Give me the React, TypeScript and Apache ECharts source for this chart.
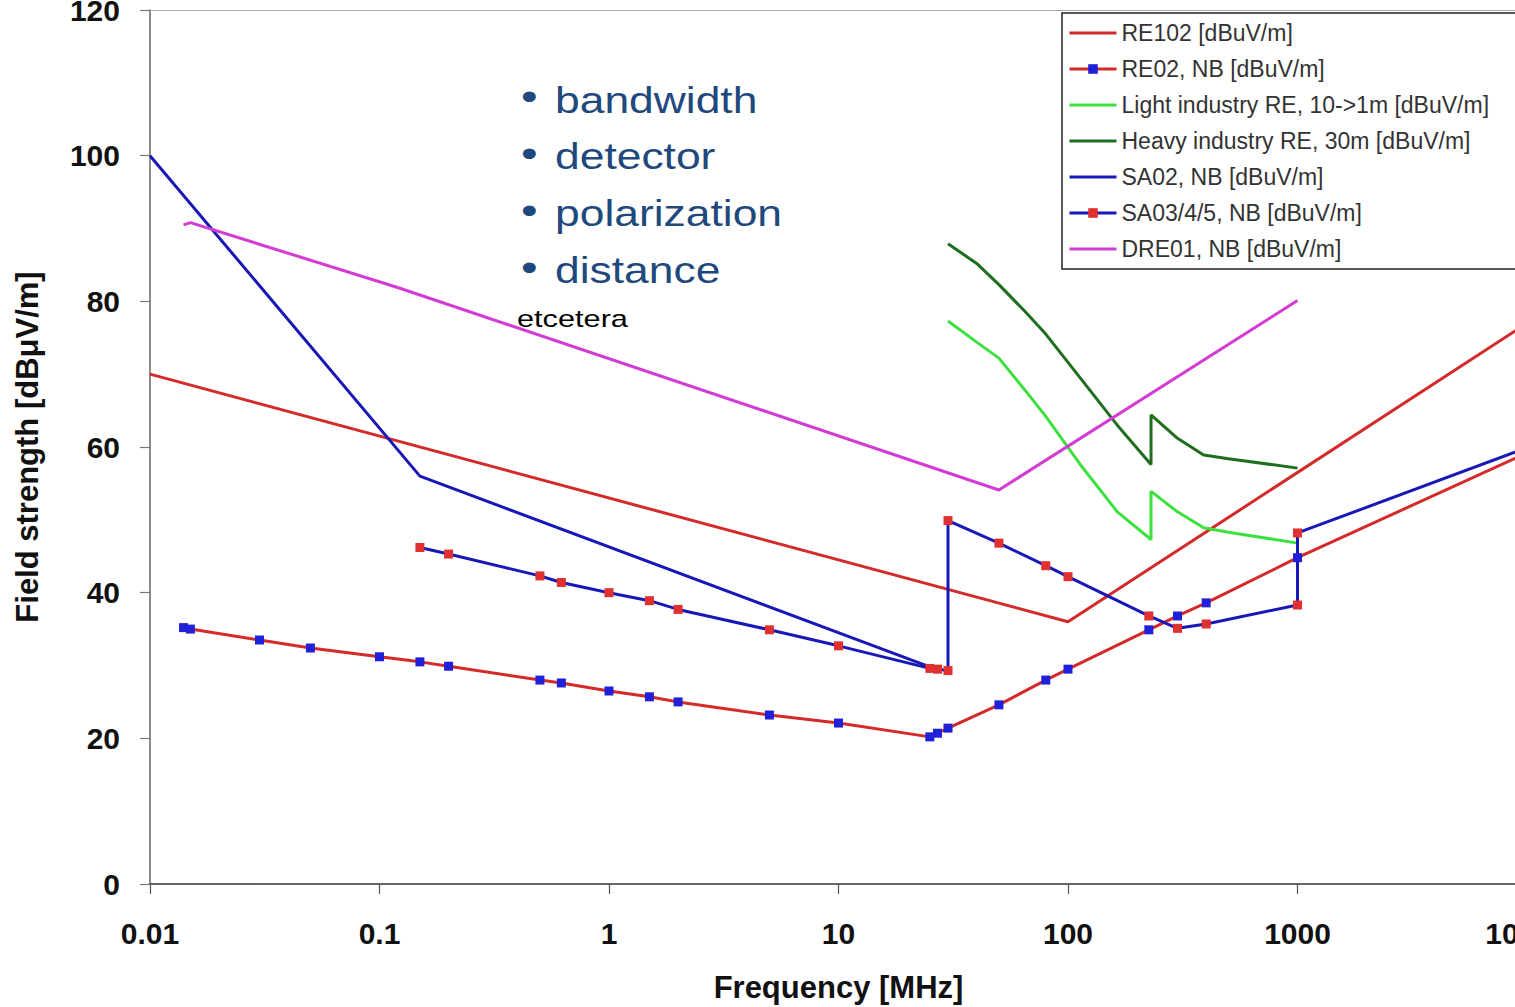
import React, { useEffect, useRef } from 'react';
import * as echarts from 'echarts';

const FONT = '"Liberation Sans", Arial, Helvetica, sans-serif';

// Frequencies in MHz, values in dBuV/m
const re102Freq = [0.01, 100, 10000];
const re102Val = [70, 36, 77];

const re02Freq = [0.014, 0.015, 0.03, 0.05, 0.1, 0.15, 0.2, 0.5, 0.62, 1, 1.5, 2, 5, 10, 25, 27, 30, 50, 80, 100, 225, 300, 400, 1000, 10000];
const re02Val = [35.2, 35.0, 33.5, 32.4, 31.2, 30.5, 29.9, 28.0, 27.6, 26.5, 25.7, 25.0, 23.2, 22.1, 20.2, 20.7, 21.4, 24.6, 28.0, 29.5, 34.9, 36.8, 38.6, 44.8, 59.2];

const lightFreq = [30, 40, 50, 65, 80, 113, 164, 230, 230, 300, 390, 500, 1000];
const lightVal = [77.3, 74.4, 72.2, 67.8, 64.2, 57.6, 51.1, 47.3, 53.9, 51.1, 48.9, 48.3, 46.8];

const heavyFreq = [30, 40, 50, 65, 80, 113, 164, 230, 230, 300, 390, 500, 1000];
const heavyVal = [87.9, 85.2, 82.3, 78.6, 75.5, 69.5, 63.0, 57.6, 64.4, 61.2, 58.9, 58.4, 57.1];

const sa02Freq = [0.01, 0.15, 25];
const sa02Val = [100, 56, 29.8];

const sa03Freq = [0.15, 0.2, 0.5, 0.62, 1, 1.5, 2, 5, 10, 25, 27, 30, 30, 50, 80, 100, 225, 300, 400, 1000, 1000, 10000];
const sa03Val = [46.2, 45.3, 42.3, 41.4, 40.0, 38.9, 37.7, 34.9, 32.7, 29.6, 29.5, 29.3, 49.9, 46.8, 43.7, 42.2, 36.8, 35.1, 35.7, 38.3, 48.2, 59.9];

const dre01Freq = [0.014, 0.015, 0.12, 50, 1000];
const dre01Val = [90.5, 90.8, 81.9, 54.1, 80.1];

const seriesNames = [
  'RE102 [dBuV/m]',
  'RE02, NB [dBuV/m]',
  'Light industry RE, 10->1m [dBuV/m]',
  'Heavy industry RE, 30m [dBuV/m]',
  'SA02, NB [dBuV/m]',
  'SA03/4/5, NB [dBuV/m]',
  'DRE01, NB [dBuV/m]',
];
const seriesHasMarker = [false, true, false, false, false, true, false];

const bullets = ['bandwidth', 'detector', 'polarization', 'distance'];
const noteText = 'etcetera';

const RED = '#d42a2a';
const BLUE = '#1818b8';
const LIGHT_GREEN = '#3ee03e';
const DARK_GREEN = '#1f6e1f';
const MAGENTA = '#d23cd2';
const MARK_BLUE = '#2020d8';
const MARK_RED = '#e03030';

const pairs = (xs: number[], ys: number[]) => xs.map((x, i) => [x, ys[i]]);

function lineSeries(name: string, xs: number[], ys: number[], color: string, markerColor?: string) {
  return {
    name,
    type: 'line',
    data: pairs(xs, ys),
    symbol: markerColor ? 'rect' : 'none',
    symbolSize: 9,
    showSymbol: !!markerColor,
    lineStyle: { color, width: 3 },
    itemStyle: { color: markerColor || color },
    emphasis: { disabled: true },
  };
}

export default function App() {
  const ref = useRef<HTMLDivElement>(null);

  useEffect(() => {
    if (!ref.current) return;
    const chart = echarts.init(ref.current, undefined, { renderer: 'svg' });
    const fmt = (v: number) => String(parseFloat(Number(v).toPrecision(4)));
    const graphics: any[] = [];
    bullets.forEach((b, i) => {
      const y = 100 + i * 56.8;
      graphics.push({
        type: 'text',
        x: 521,
        y: y - 3,
        scaleX: 1.25,
        style: { text: '\u2022', fontSize: 38, fontFamily: FONT, fill: '#1f497d', verticalAlign: 'middle', align: 'left' },
      });
      graphics.push({
        type: 'text',
        x: 555,
        y: y,
        scaleX: 1.2,
        style: { text: b, fontSize: 37, fontFamily: FONT, fill: '#1f497d', verticalAlign: 'middle', align: 'left' },
      });
    });
    graphics.push({
      type: 'text',
      x: 517,
      y: 319,
      scaleX: 1.28,
      style: { text: noteText, fontSize: 24, fontFamily: FONT, fill: '#000', verticalAlign: 'middle', align: 'left' },
    });

    const legendData = seriesNames.map((n, i) =>
      seriesHasMarker[i] ? { name: n } : { name: n, itemStyle: { opacity: 0 } }
    );

    const option: any = {
      animation: false,
      backgroundColor: '#ffffff',
      textStyle: { fontFamily: FONT },
      grid: { left: 150, top: 10, right: 13, bottom: 123, containLabel: false, outerBoundsMode: 'none' },
      legend: {
        orient: 'vertical',
        left: 1062,
        top: 13,
        data: legendData,
        itemWidth: 47,
        itemHeight: 12,
        itemGap: 12,
        padding: [8, 90, 8, 6],
        backgroundColor: '#ffffff',
        borderColor: '#222',
        borderWidth: 1.5,
        borderRadius: 0,
        selectedMode: false,
        lineStyle: { width: 3 },
        textStyle: { fontSize: 23, color: '#333', fontFamily: FONT, lineHeight: 24 },
      },
      xAxis: [
        {
          type: 'log',
          logBase: 10,
          min: 0.01,
          max: 10000,
          name: 'Frequency [MHz]',
          nameLocation: 'middle',
          nameGap: 88,
          nameTextStyle: { fontSize: 31, fontWeight: 'bold', color: '#111', fontFamily: FONT },
          axisLine: { show: true, lineStyle: { color: '#333', width: 1.5 } },
          axisTick: { show: true, inside: false, length: 10, lineStyle: { color: '#555', width: 1.2 } },
          minorTick: { show: false },
          splitLine: { show: false },
          axisLabel: { fontSize: 30, fontWeight: 'bold', color: '#111', margin: 34, formatter: fmt, fontFamily: FONT },
        },
        {
          type: 'log',
          logBase: 10,
          min: 0.01,
          max: 10000,
          position: 'top',
          axisLine: { show: true, lineStyle: { color: '#aaa', width: 1 } },
          axisTick: { show: false },
          axisLabel: { show: false },
          splitLine: { show: false },
        },
      ],
      yAxis: {
        type: 'value',
        min: 0,
        max: 120,
        interval: 20,
        name: 'Field strength [dB\u03BCV/m]',
        nameLocation: 'middle',
        nameGap: 107,
        nameTextStyle: { fontSize: 31, fontWeight: 'bold', color: '#111', fontFamily: FONT },
        axisLine: { show: true, lineStyle: { color: '#666', width: 1.5 } },
        axisTick: { show: true, inside: false, length: 10, lineStyle: { color: '#777', width: 1.2 } },
        splitLine: { show: false },
        axisLabel: { fontSize: 30, fontWeight: 'bold', color: '#111', margin: 30, fontFamily: FONT },
      },
      graphic: graphics,
      series: [
        lineSeries(seriesNames[0], re102Freq, re102Val, RED),
        lineSeries(seriesNames[1], re02Freq, re02Val, RED, MARK_BLUE),
        lineSeries(seriesNames[2], lightFreq, lightVal, LIGHT_GREEN),
        lineSeries(seriesNames[3], heavyFreq, heavyVal, DARK_GREEN),
        lineSeries(seriesNames[4], sa02Freq, sa02Val, BLUE),
        lineSeries(seriesNames[5], sa03Freq, sa03Val, BLUE, MARK_RED),
        lineSeries(seriesNames[6], dre01Freq, dre01Val, MAGENTA),
      ],
    };
    chart.setOption(option);
    return () => chart.dispose();
  }, []);

  return (
    <div style={{ position: 'fixed', left: 0, top: 0, width: 1515, height: 1007, overflow: 'hidden', background: '#fff' }}>
      <div ref={ref} style={{ width: 1540, height: 1007 }} />
    </div>
  );
}
